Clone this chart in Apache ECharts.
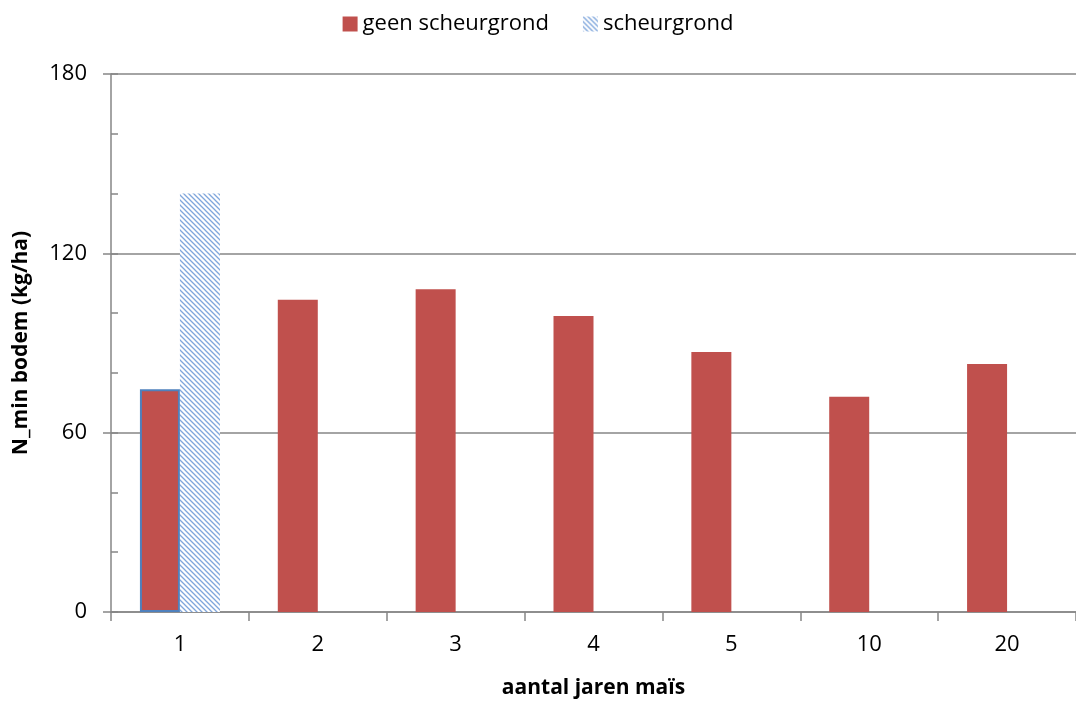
<!DOCTYPE html>
<html><head><meta charset="utf-8">
<script src="https://cdn.jsdelivr.net/npm/echarts@6/dist/echarts.min.js"></script>
<style>html,body{margin:0;padding:0;background:#fff}#c{width:1076px;height:704px}</style>
</head><body><div id="c"></div>
<script>
const categories = ['1','2','3','4','5','10','20'];
const geenScheurgrond = [74.5, 104.5, 108, 99, 87, 72, 83];
const scheurgrond = [140, null, null, null, null, null, null];
const yTicks = [0, 60, 120, 180];

function hatch(){
  const c = document.createElement('canvas');
  c.width = 5; c.height = 5;
  const g = c.getContext('2d');
  g.fillStyle = '#fff'; g.fillRect(0,0,5,5);
  g.strokeStyle = '#7FA6DC'; g.lineWidth = 1.3;
  g.beginPath();
  g.moveTo(-1,-1); g.lineTo(6,6);
  g.moveTo(-1,4); g.lineTo(1,6);
  g.moveTo(4,-1); g.lineTo(6,1);
  g.stroke();
  return c;
}
const pat = {image: hatch(), repeat: 'repeat'};
const font = '"Open Sans", sans-serif';

const chart = echarts.init(document.getElementById('c'), null, {renderer:'canvas'});
chart.setOption({
  animation: false,
  textStyle: {fontFamily: font},
  legend: {
    top: 8, left: 'center', itemWidth: 15, itemHeight: 15, itemGap: 34,
    textStyle: {fontSize: 22, color: '#000', fontFamily: font},
    data: [{name:'geen scheurgrond', icon:'rect'}, {name:'scheurgrond', icon:'rect'}]
  },
  grid: {left: 111, right: 0, top: 74, bottom: 91},
  xAxis: {
    type: 'category', data: categories,
    name: 'aantal jaren maïs', nameLocation: 'middle', nameGap: 66,
    nameTextStyle: {fontSize: 21, fontWeight: 'bold', color: '#000', fontFamily: font},
    axisLine: {lineStyle: {color: '#868686', width: 1.5}},
    axisTick: {show: true, length: 9, lineStyle: {color: '#868686', width: 1.5}},
    axisLabel: {fontSize: 22, color: '#000', margin: 22, fontFamily: font}
  },
  yAxis: [{
    type: 'value', min: 0, max: 180, interval: 60,
    name: 'N_min bodem (kg/ha)', nameLocation: 'middle', nameGap: 79,
    nameTextStyle: {fontSize: 21, fontWeight: 'bold', color: '#000', fontFamily: font},
    axisLine: {show: true, lineStyle: {color: '#868686', width: 1.5}},
    axisTick: {show: true, length: 8, lineStyle: {color: '#868686', width: 1.5}},
    axisLabel: {fontSize: 22, color: '#000', margin: 24, fontFamily: font,
      formatter: v => yTicks.includes(v) ? String(v) : ''},
    splitLine: {show: true, lineStyle: {color: '#868686', width: 1.5}}
  },{
    type: 'value', min: 0, max: 180, interval: 20, position: 'left',
    axisLine: {show: false}, axisLabel: {show: false}, splitLine: {show: false},
    axisTick: {show: true, inside: true, length: 7, lineStyle: {color: '#868686', width: 1.5}}
  }],
  series: [{
    name: 'geen scheurgrond', type: 'bar', barWidth: 40, barGap: '0%',
    itemStyle: {color: '#C0504D'},
    data: geenScheurgrond.map((v,i) => i === 0
      ? {value: v, itemStyle: {borderColor: '#4F81BD', borderWidth: 2}}
      : v)
  },{
    name: 'scheurgrond', type: 'bar', barWidth: 40, barGap: '0%',
    itemStyle: {color: pat},
    data: scheurgrond
  }]
});
</script></body></html>
